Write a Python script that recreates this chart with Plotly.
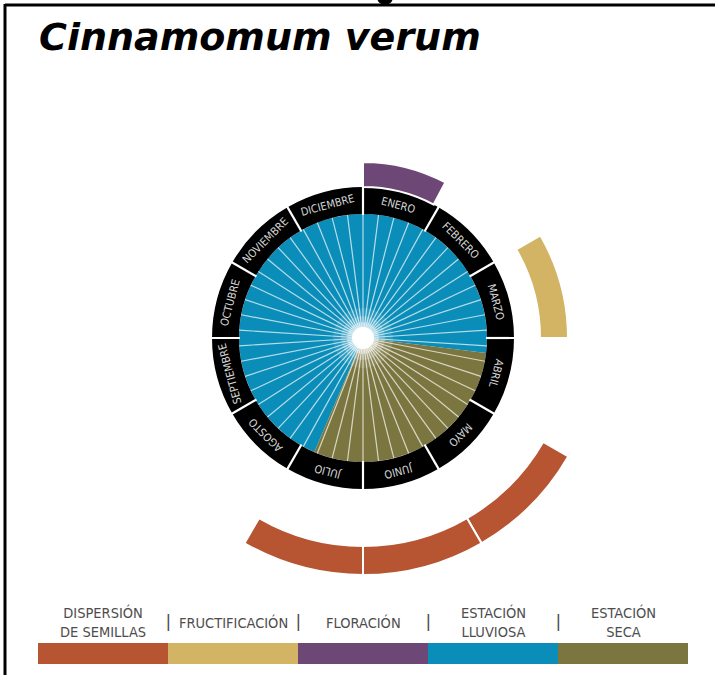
import math
import plotly.graph_objects as go

# ---------------- data ----------------
months = ["ENERO", "FEBRERO", "MARZO", "ABRIL", "MAYO", "JUNIO",
          "JULIO", "AGOSTO", "SEPTIEMBRE", "OCTUBRE", "NOVIEMBRE", "DICIEMBRE"]
# phases as (start_month, end_month) in month units (0 = start of January)
floracion = [(0.0, 0.93)]
fructificacion = [(2.0, 3.0)]
dispersion = [(4.0, 5.0), (5.0, 6.0), (6.0, 7.0)]
estacion_seca = (3.23, 6.77)
estacion_lluviosa = (6.77, 15.23)

legend_labels = ["DISPERSIÓN<br>DE SEMILLAS", "FRUCTIFICACIÓN", "FLORACIÓN",
                 "ESTACIÓN<br>LLUVIOSA", "ESTACIÓN<br>SECA"]
legend_colors = ["#b75432", "#d3b465", "#6d4877", "#0a8db9", "#7b763f"]

C_ORANGE, C_YELLOW, C_PURPLE, C_BLUE, C_OLIVE = legend_colors

W, H = 715, 675
CX, CY = 363, 338          # centre of the wheel in px
RMAX = 240                 # radial range (1 unit = 1 px)

DPM = 30.0  # degrees per month


def sec(a, b):
    return (a + b) / 2 * DPM, (b - a) * DPM


fig = go.Figure()

# seasons (inner disk)
for (a, b), col in [(estacion_lluviosa, C_BLUE), (estacion_seca, C_OLIVE)]:
    t, w = sec(a, b)
    fig.add_trace(go.Barpolar(theta=[t], width=[w], r=[124], base=[0],
                              marker=dict(color=col, line=dict(width=0)),
                              hoverinfo="skip", showlegend=False))

# rays
N_RAYS = 50
rt, rr = [], []
for i in range(N_RAYS):
    ang = i * 360.0 / N_RAYS
    rt += [ang, ang, None]
    rr += [8, 124, None]
fig.add_trace(go.Scatterpolar(theta=rt, r=rr, mode="lines",
                              line=dict(color="rgba(255,255,255,0.7)", width=1.2),
                              hoverinfo="skip", showlegend=False))

# centre glow
fig.add_trace(go.Scatterpolar(theta=[0, 0, 0, 0], r=[0, 0, 0, 0], mode="markers",
                              marker=dict(size=[60, 44, 32, 22],
                                          color=["rgba(255,255,255,0.12)", "rgba(255,255,255,0.2)",
                                                 "rgba(255,255,255,0.35)", "white"],
                                          opacity=1,
                                          line=dict(width=0)),
                              hoverinfo="skip", showlegend=False))

# month ring
fig.add_trace(go.Barpolar(theta=[(i + 0.5) * DPM for i in range(12)], width=[DPM] * 12,
                          r=[27] * 12, base=[124] * 12,
                          marker=dict(color="black", line=dict(width=0)),
                          hoverinfo="skip", showlegend=False))
st, sr = [], []
for i in range(12):
    st += [i * DPM, i * DPM, None]
    sr += [123, 152, None]
fig.add_trace(go.Scatterpolar(theta=st, r=sr, mode="lines",
                              line=dict(color="white", width=2.2),
                              hoverinfo="skip", showlegend=False))

# phases (outer arcs)
for data, col, base, length in [(floracion, C_PURPLE, 151, 25),
                                (fructificacion, C_YELLOW, 177, 28),
                                (dispersion, C_ORANGE, 208, 29)]:
    th = [sec(a, b)[0] for a, b in data]
    wd = [sec(a, b)[1] for a, b in data]
    fig.add_trace(go.Barpolar(theta=th, width=wd, r=[length] * len(data), base=[base] * len(data),
                              marker=dict(color=col, line=dict(color="white", width=2)),
                              hoverinfo="skip", showlegend=False))

ann = []


def to_paper(theta_deg, r):
    a = math.radians(theta_deg)
    x = CX + r * math.sin(a)
    y = CY - r * math.cos(a)
    return x / W, 1 - y / H


for i, m in enumerate(months):
    th = (i + 0.5) * DPM
    x, y = to_paper(th, 137.5)
    ang = th if th <= 180 else th - 360
    ann.append(dict(x=x, y=y, xref="paper", yref="paper", text=m, showarrow=False,
                    textangle=ang, xanchor="center", yanchor="middle",
                    font=dict(family="Liberation Sans Narrow, DejaVu Sans Condensed, sans-serif",
                              size=11, color="#d6d6d6")))

# title
ann.append(dict(x=37 / W, y=1 - 37 / H, xref="paper", yref="paper", text="Cinnamomum verum",
                showarrow=False, xanchor="left", yanchor="middle",
                font=dict(family="DejaVu Sans, sans-serif", size=38, color="black",
                          weight="bold", style="italic")))

# legend
shapes = []
x0 = 38
seg = 130
for i, (lab, col) in enumerate(zip(legend_labels, legend_colors)):
    shapes.append(dict(type="rect", xref="paper", yref="paper",
                       x0=(x0 + i * seg) / W, x1=(x0 + (i + 1) * seg) / W,
                       y0=1 - 664 / H, y1=1 - 643 / H,
                       fillcolor=col, line=dict(width=0), layer="above"))
    ann.append(dict(x=(x0 + (i + 0.5) * seg) / W, y=1 - 622 / H, xref="paper", yref="paper",
                    text=lab, showarrow=False, xanchor="center", yanchor="middle",
                    font=dict(family="Liberation Sans Narrow, DejaVu Sans Condensed, sans-serif",
                              size=14.5, color="#4d4d4d")))
for i in range(1, 5):
    ann.append(dict(x=(x0 + i * seg) / W, y=1 - 621 / H, xref="paper", yref="paper",
                    text="|", showarrow=False, xanchor="center", yanchor="middle",
                    font=dict(family="Liberation Sans Narrow, sans-serif", size=18, color="#4d4d4d")))

# frame
shapes.append(dict(type="line", xref="paper", yref="paper", x0=5 / W, x1=1, y0=1 - 5 / H, y1=1 - 5 / H,
                   line=dict(color="black", width=3)))
shapes.append(dict(type="line", xref="paper", yref="paper", x0=5 / W, x1=5 / W, y0=0, y1=1 - 4 / H,
                   line=dict(color="black", width=3)))
shapes.append(dict(type="circle", xref="paper", yref="paper", x0=377 / W, x1=393 / W,
                   y0=1 - 5 / H, y1=1 + 11 / H, fillcolor="black", line=dict(width=0)))

fig.update_layout(
    width=W, height=H, margin=dict(l=0, r=0, t=0, b=0),
    paper_bgcolor="white", plot_bgcolor="white",
    polar=dict(domain=dict(x=[(CX - RMAX) / W, (CX + RMAX) / W],
                           y=[1 - (CY + RMAX) / H, 1 - (CY - RMAX) / H]),
               radialaxis=dict(range=[0, RMAX], visible=False),
               angularaxis=dict(direction="clockwise", rotation=90, visible=False),
               bgcolor="rgba(0,0,0,0)", barmode="overlay", hole=0),
    annotations=ann, shapes=shapes, showlegend=False,
)

fig.write_html("out.html", config={"displayModeBar": False},
               post_script="document.body.style.margin='0';document.body.style.overflow='hidden';")
